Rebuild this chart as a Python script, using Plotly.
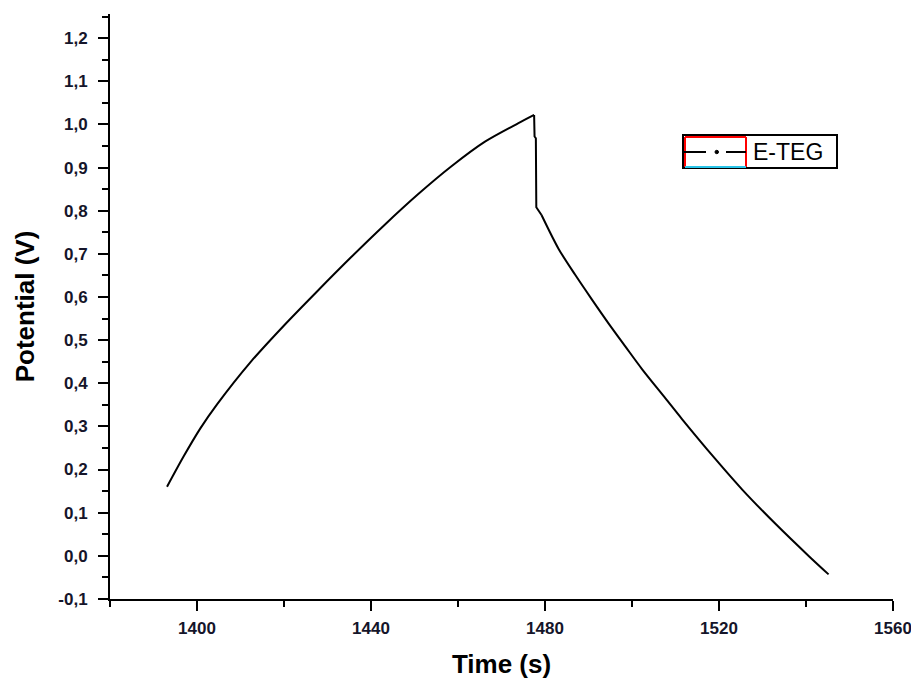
import plotly.graph_objects as go

# ---- data ----
charge_time = [1393.1, 1396.9, 1400.8, 1404.6, 1412.3, 1420.0, 1427.7, 1435.4,
               1443.1, 1450.8, 1458.5, 1466.2, 1473.9, 1477.5]
charge_potential = [0.160, 0.230, 0.296, 0.351, 0.449, 0.534, 0.614, 0.692,
                    0.767, 0.838, 0.903, 0.960, 1.003, 1.022]

drop_time = [1477.5, 1477.6, 1477.9, 1478.0, 1479.2]
drop_potential = [1.022, 0.972, 0.968, 0.808, 0.790]

discharge_time = [1479.2, 1483.1, 1486.9, 1490.8, 1494.6, 1498.5, 1502.3, 1507.7,
                  1511.5, 1519.2, 1525.4, 1533.1, 1540.8, 1545.2]
discharge_potential = [0.790, 0.712, 0.652, 0.594, 0.539, 0.485, 0.433, 0.365,
                       0.317, 0.224, 0.153, 0.073, -0.002, -0.043]

x_tick_values = [1400, 1440, 1480, 1520, 1560]
x_tick_labels = ["1400", "1440", "1480", "1520", "1560"]
y_tick_values = [-0.1, 0.0, 0.1, 0.2, 0.3, 0.4, 0.5, 0.6, 0.7, 0.8, 0.9, 1.0, 1.1, 1.2]
y_tick_labels = ["-0,1", "0,0", "0,1", "0,2", "0,3", "0,4", "0,5", "0,6",
                 "0,7", "0,8", "0,9", "1,0", "1,1", "1,2"]

series_name = "E-TEG"
x_title = "Time (s)"
y_title = "Potential (V)"

# ---- figure (the page body adds an 8 px offset, compensated here) ----
OFF = 8
W, H = 919 - OFF, 680 - OFF
L, R, T, B = 110 - OFF, 26, 14 - OFF, 81
PW, PH = W - L - R, H - T - B


def px(x):
    """page pixel x -> paper fraction"""
    return (x - OFF - L) / PW


def py(y):
    """page pixel y -> paper fraction"""
    return (OFF + H - B - y) / PH


fig = go.Figure()
line_style = dict(color="black", width=2)
fig.add_trace(go.Scatter(x=charge_time, y=charge_potential, mode="lines", name=series_name,
                         line=dict(line_style, shape="spline", smoothing=0.8), showlegend=False))
fig.add_trace(go.Scatter(x=drop_time, y=drop_potential, mode="lines", name=series_name,
                         line=line_style, showlegend=False))
fig.add_trace(go.Scatter(x=discharge_time, y=discharge_potential, mode="lines", name=series_name,
                         line=dict(line_style, shape="spline", smoothing=0.8), showlegend=False))

tick_font = dict(family="Liberation Sans, Arial, sans-serif", size=17, color="#15152a", weight="bold")
title_font = dict(family="Liberation Sans, Arial, sans-serif", size=26, color="black", weight="bold")

fig.update_layout(
    width=W, height=H,
    margin=dict(l=L, r=R, t=T, b=B),
    paper_bgcolor="white", plot_bgcolor="white",
    xaxis=dict(
        range=[1379.99, 1560.01], tickmode="array",
        tickvals=x_tick_values, ticktext=x_tick_labels,
        showline=True, linewidth=2, linecolor="black",
        ticks="outside", ticklen=10, tickwidth=2, tickcolor="black",
        minor=dict(dtick=20, tick0=1380, ticks="outside", ticklen=6, tickwidth=2, tickcolor="black"),
        showgrid=False, zeroline=False, automargin=False,
        tickfont=tick_font, ticklabelstandoff=3,
        title=dict(text=x_title, font=title_font, standoff=17),
    ),
    yaxis=dict(
        range=[-0.1001, 1.256], tickmode="array",
        tickvals=y_tick_values, ticktext=y_tick_labels,
        showline=True, linewidth=2, linecolor="black",
        ticks="outside", ticklen=10, tickwidth=2, tickcolor="black",
        minor=dict(dtick=0.05, tick0=0, ticks="outside", ticklen=6, tickwidth=2, tickcolor="black"),
        showgrid=False, zeroline=False, automargin=False,
        tickfont=tick_font, ticklabelstandoff=7,
        title=dict(text=y_title, font=title_font, standoff=16),
    ),
)

# ---- legend box drawn as in the reference ----
shapes = []
shapes.append(dict(type="rect", xref="paper", yref="paper",
                   x0=px(683), x1=px(837), y0=py(168), y1=py(135),
                   line=dict(color="black", width=2), fillcolor="white", layer="above"))
shapes.append(dict(type="line", xref="paper", yref="paper",
                   x0=px(685), x1=px(685), y0=py(167), y1=py(137),
                   line=dict(color="red", width=2)))
shapes.append(dict(type="line", xref="paper", yref="paper",
                   x0=px(685), x1=px(746), y0=py(137), y1=py(137),
                   line=dict(color="red", width=2)))
shapes.append(dict(type="line", xref="paper", yref="paper",
                   x0=px(746), x1=px(746), y0=py(167), y1=py(137),
                   line=dict(color="red", width=2)))
shapes.append(dict(type="line", xref="paper", yref="paper",
                   x0=px(685), x1=px(746), y0=py(167), y1=py(167),
                   line=dict(color="#29c4e8", width=2)))
shapes.append(dict(type="line", xref="paper", yref="paper",
                   x0=px(684), x1=px(706), y0=py(152), y1=py(152),
                   line=dict(color="black", width=2)))
shapes.append(dict(type="line", xref="paper", yref="paper",
                   x0=px(726), x1=px(746), y0=py(152), y1=py(152),
                   line=dict(color="black", width=2)))
shapes.append(dict(type="circle", xref="paper", yref="paper",
                   x0=px(715), x1=px(718.5), y0=py(153.7), y1=py(150.3),
                   line=dict(color="black", width=1), fillcolor="black"))
fig.update_layout(shapes=shapes)

fig.add_annotation(
    xref="paper", yref="paper", x=px(751), y=py(152),
    xanchor="left", yanchor="middle", showarrow=False,
    text=series_name,
    font=dict(family="Liberation Sans, Arial, sans-serif", size=23, color="black"),
)

fig.write_html("out.html")
